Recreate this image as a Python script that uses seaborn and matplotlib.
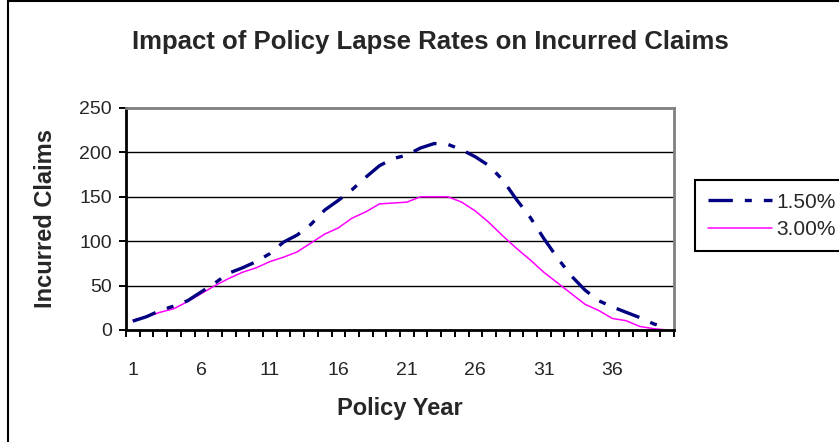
import pandas as pd
import seaborn as sns
import matplotlib
matplotlib.use('Agg')
import matplotlib.pyplot as plt

# values
policy_year = list(range(1, 41))
lapse_150 = [10, 15, 22, 27, 33, 43, 53, 64, 70, 77,
             86, 99, 107, 119, 135, 146, 158, 172, 185, 193,
             197, 205, 210, 209, 203, 195, 185, 169, 147, 127,
             103, 81, 61, 45, 33, 26, 20, 14, 7, 2]
lapse_300 = [11, 15, 20, 24, 32, 41, 50, 58, 65, 70,
             77, 82, 88, 98, 108, 115, 126, 133, 142, 143,
             144, 150, 150, 150, 144, 134, 121, 106, 92, 79,
             65, 53, 41, 29, 22, 13, 10.5, 4, 1.5, 0]
series_names = ['1.50%', '3.00%']
year_labels = ['1', '6', '11', '16', '21', '26', '31', '36']
y_ticks = [0, 50, 100, 150, 200, 250]

df = pd.DataFrame({'year': policy_year, series_names[0]: lapse_150, series_names[1]: lapse_300})

sns.set_style('white')
plt.rcParams['font.family'] = ['Liberation Sans', 'DejaVu Sans']

fig = plt.figure(figsize=(8.39, 4.42), dpi=100)
ax = fig.add_axes([126/839, 1-330/442, 548/839, 222/442])

# gridlines first so lines sit on top
for v in y_ticks[1:-1]:
    ax.axhline(v, color='black', lw=1.0, zorder=1)

sns.lineplot(data=df, x='year', y=series_names[0], ax=ax, color='#000080', lw=2.4,
             linestyle=(0, (7.3, 3.6, 2.1, 3.6)), label=series_names[0], zorder=3)
sns.lineplot(data=df, x='year', y=series_names[1], ax=ax, color='#FF00FF', lw=1.1,
             label=series_names[1], zorder=2)

ax.set_xlim(0.5, 40.5)
ax.set_ylim(0, 250)
ax.set_xticks([int(s) for s in year_labels])
ax.set_xticklabels(year_labels)
ax.set_xticks([x + 0.5 for x in range(0, 41)], minor=True)
ax.set_yticks(y_ticks)
ax.tick_params(axis='x', which='major', length=0, pad=23, labelsize=14)
ax.tick_params(axis='x', which='minor', length=5, width=1.4, direction='out', color='black')
ax.tick_params(axis='y', length=5, width=1.4, direction='out', pad=5, labelsize=14, color='black')
ax.tick_params(bottom=True, left=True, which='both')

for side in ['left', 'bottom']:
    ax.spines[side].set_color('black')
    ax.spines[side].set_linewidth(2)
for side in ['top', 'right']:
    ax.spines[side].set_color('#808080')
    ax.spines[side].set_linewidth(2)

ax.set_xlabel('Policy Year', fontsize=17, fontweight='bold')
ax.set_ylabel('Incurred Claims', fontsize=17, fontweight='bold')
ax.xaxis.set_label_coords(0.5, -0.3)
ax.yaxis.set_label_coords(-0.125, 0.5)

fig.text(0.513, 1-42/442, 'Impact of Policy Lapse Rates on Incurred Claims',
         ha='center', va='center', fontsize=18.5, fontweight='bold')

leg = ax.legend(loc='upper left', bbox_to_anchor=(695/839, 1-180/442),
                bbox_transform=fig.transFigure, borderaxespad=0, fontsize=15,
                handlelength=3.1, handletextpad=0.2, borderpad=0.6,
                labelspacing=0.4, fancybox=False, framealpha=1)
leg.get_frame().set_edgecolor('black')
leg.get_frame().set_linewidth(1.5)

# chart-area border (left and top edges visible in the reference)
fig.add_artist(plt.Rectangle((8/839, -0.2), 1.2, 1.2 - 1/442, transform=fig.transFigure,
                             fill=False, edgecolor='black', lw=1.5))

fig.savefig('out.png', dpi=100)
